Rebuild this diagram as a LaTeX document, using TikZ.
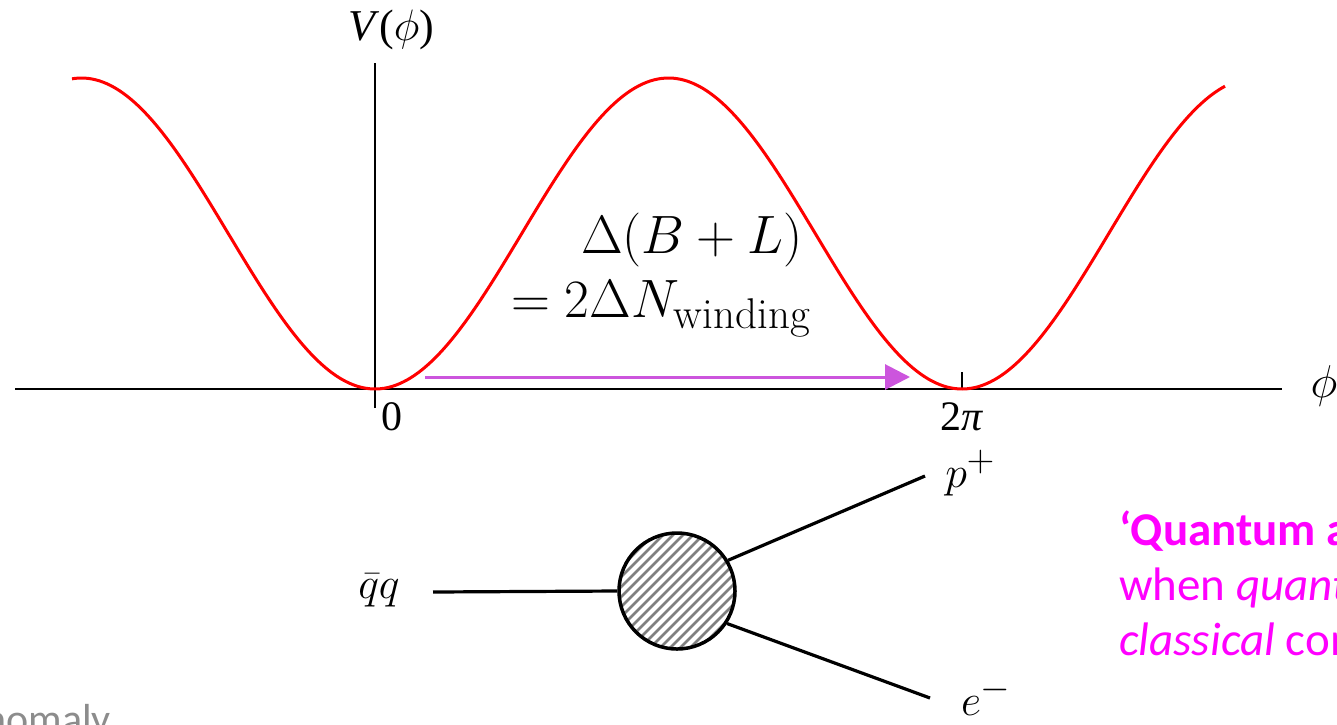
\RequirePackage{fix-cm}
\documentclass[tikz,border=0pt]{standalone}
\usepackage{fontspec}
\newfontfamily\timesf{Liberation Serif}
\newfontfamily\calf{Carlito}
\usetikzlibrary{arrows.meta}
\definecolor{curvered}{RGB}{255,0,0}
\definecolor{arrowviolet}{RGB}{204,85,221}
\definecolor{magtext}{RGB}{255,0,255}
\definecolor{graytext}{RGB}{140,140,140}
\definecolor{hatchgray}{RGB}{128,128,128}
\tikzset{
  axis/.style={line width=1.8pt, black},
  curve/.style={line width=3pt, curvered},
  arr/.style={line width=3pt, arrowviolet, -{Triangle[length=25pt,width=25pt]}},
  leg/.style={line width=3.2pt, black},
  lbl/.style={inner sep=0pt, anchor=base},
  blobstyle/.style={circle, draw=black, line width=3.5pt, fill=white, minimum size=116pt, inner sep=0pt,
    path picture={\foreach \i in {-200,-190,...,200}{\draw[hatchgray, line width=2.6pt] ([xshift=\i pt-100pt, yshift=-100pt]path picture bounding box.center) -- ++(200pt,200pt);}}},
  magline/.style={inner sep=0pt, anchor=base west, text=magtext, font=\calf\fontsize{47}{55}\selectfont}
}
\begin{document}
\begin{tikzpicture}[x=1pt,y=-1pt]
\useasboundingbox (0,0) rectangle (1337,724);
\clip (0,0) rectangle (1337,724);
% axes
\coordinate (xl) at (15,389);
\coordinate (xr) at (1282,389);
\coordinate (yb) at (375,408);
\coordinate (yt) at (375,63);
\coordinate (tb) at (962,389);
\coordinate (tt) at (962,372);
\draw[axis] (xl) -- (xr);
\draw[axis] (yb) -- (yt);
\draw[axis] (tb) -- (tt);
% potential
\draw[curve] plot[domain=72:1225,samples=300,smooth] (\x,{233.5+155.5*cos((\x-375)*0.613288)});
% arrow
\coordinate (as) at (425,377);
\coordinate (ae) at (910,377);
\draw[arr] (as) -- (ae);
% axis labels
\node[lbl, font=\timesf\fontsize{44}{50}\selectfont] (vlab) at (391,40) {\textit{V}($\phi$)};
\node[lbl, font=\timesf\fontsize{42}{50}\selectfont] (zero) at (392,430) {0};
\node[lbl, font=\timesf\fontsize{42}{50}\selectfont] (twopi) at (962,430) {2\textit{π}};
\node[lbl, font=\fontsize{46}{50}\selectfont] (philab) at (1324,397) {$\phi$};
% formula
\node[lbl, font=\fontsize{54}{60}\selectfont] (dbl) at (692,253) {$\Delta(B+L)$};
\node[inner sep=0pt, anchor=base west, font=\fontsize{54}{60}\selectfont] (dnw) at (511,317) {$=2\Delta N_{\hbox{\fontsize{43}{50}\selectfont winding}}$};
% diagram
\node[blobstyle] (blob) at (677,591) {};
\coordinate (qin) at (433,592);
\coordinate (pout) at (925,476);
\coordinate (eout) at (930,698);
\draw[leg] (qin) -- (blob.west);
\draw[leg] (blob.31) -- (pout);
\draw[leg] (blob.-33) -- (eout);
\node[lbl, font=\fontsize{44}{50}\selectfont] (qq) at (379,598) {$\bar{q}q$};
\node[lbl, font=\fontsize{44}{50}\selectfont] (pp) at (970,487) {$p^{\hbox{\fontsize{38}{40}\selectfont $+$}}$};
\node[lbl, font=\fontsize{44}{50}\selectfont] (em) at (986,715) {$e^{\hbox{\fontsize{38}{40}\selectfont $-$}}$};
% magenta text
\node[magline] (m1) at (1119,545) {\bfseries ‘Quantum anomaly’};
\node[magline] (m2) at (1119,600) {when \itshape quantum};
\node[magline] (m3) at (1119,655) {\itshape classical\upshape\ conservation};
% gray text
\node[inner sep=0pt, anchor=base east, text=graytext, font=\calf\fontsize{42}{50}\selectfont] (anom) at (111,733) {Anomaly};
\end{tikzpicture}
\end{document}
